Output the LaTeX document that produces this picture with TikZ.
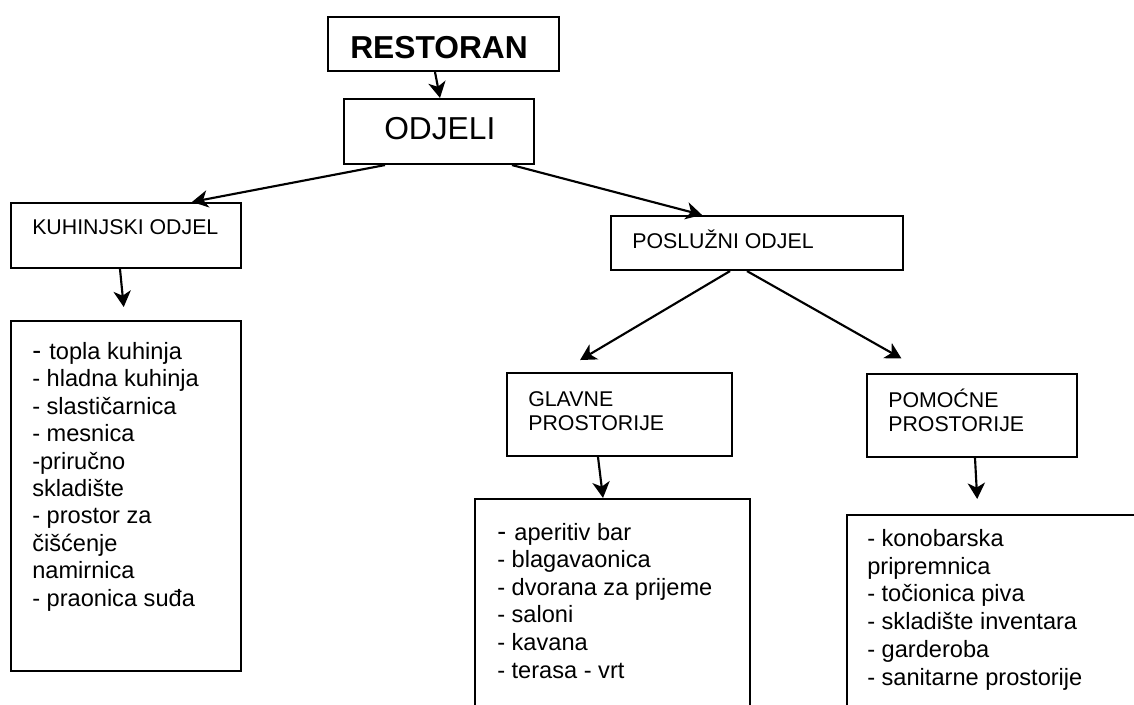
\documentclass[tikz,border=0pt]{standalone}
\usepackage{fontspec}
\setmainfont{Liberation Sans}
\usetikzlibrary{arrows.meta,fit}
\begin{document}
\begin{tikzpicture}[x=0.75pt,y=-0.75pt,
  box/.style={draw, line width=1.6pt, inner sep=0pt},
  lbl/.style={anchor=base west, inner sep=0pt, align=left},
  big/.style={lbl, font=\fontsize{23.8}{28}\selectfont},
  head/.style={lbl, font=\fontsize{16}{18}\selectfont},
  lst/.style={lbl, font=\fontsize{17.7}{20.6}\selectfont},
  arr/.style={line width=1.6pt, -{Stealth[length=12pt,width=13pt,inset=3.5pt]}}]
\useasboundingbox (0,0) rectangle (1134,704);
\clip (0,0) rectangle (1134,704);

% boxes
\node[box, fit={(328,17) (559,71)}] (rest) {};
\node[box, fit={(344,99) (534,164)}] (odj) {};
\node[box, fit={(11,203) (241,268)}] (kuh) {};
\node[box, fit={(611,216) (903,270)}] (posl) {};
\node[box, fit={(507,373) (732,456)}] (glav) {};
\node[box, fit={(867,374) (1077,457)}] (pom) {};
\node[box, fit={(11,321) (241,671)}] (kuhl) {};
\node[box, fit={(475,499) (750,740)}] (glavl) {};
\node[box, fit={(847,515) (1170,740)}] (poml) {};

% texts (base anchor of a multi-line node = baseline of its last line)
\node[big, font=\bfseries\fontsize{23.8}{28}\selectfont] at (350,58) {RESTORAN};
\node[big] at (384,139) {ODJELI};
\node[head] at (32,234) {KUHINJSKI ODJEL};
\node[head] at (632,248) {POSLUŽNI ODJEL};
\node[head] at (528,430) {GLAVNE\\PROSTORIJE};
\node[head] at (888,431) {POMOĆNE\\PROSTORIJE};
\node[lst, font=\fontsize{17.7}{20.55}\selectfont] at (32,606) {{\fontsize{20}{20}\selectfont -}\hspace{0.35em}topla kuhinja\\- hladna kuhinja\\- slastičarnica\\- mesnica\\-priručno\\skladište\\- prostor za\\čišćenje\\namirnica\\- praonica suđa};
\node[lst, font=\fontsize{17.7}{20.7}\selectfont] at (497,678) {{\fontsize{20}{20}\selectfont -}\hspace{0.35em}aperitiv bar\\- blagavaonica\\- dvorana za prijeme\\- saloni\\- kavana\\- terasa - vrt};
\node[lst, font=\fontsize{17.7}{20.8}\selectfont] at (867,685) {- konobarska\\pripremnica\\- točionica piva\\- skladište inventara\\- garderoba\\- sanitarne prostorije};

% connectors
\draw[arr] (rest.south -| 435,0) -- (odj.north -| 440,0);
\draw[arr] (odj.south -| 385,0) -- (kuh.north -| 192,0);
\draw[arr] (odj.south -| 512,0) -- (posl.north -| 702,0);
\draw[arr, shorten >=9.75pt] (kuh.south -| 120,0) -- (kuhl.north -| 125,0);
\draw[arr, shorten >=17.5pt] (posl.south -| 730,0) -- (glav.north -| 560,0);
\draw[arr, shorten >=22pt] (posl.south -| 747,0) -- (pom.north -| 927,0);
\draw[arr] (glav.south -| 598,0) -- (glavl.north -| 603,0);
\draw[arr, shorten >=11.25pt] (pom.south -| 975,0) -- (poml.north -| 978,0);
\end{tikzpicture}
\end{document}
